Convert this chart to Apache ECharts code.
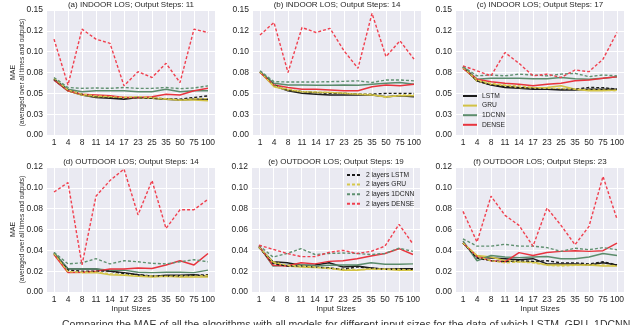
<!DOCTYPE html>
<html><head><meta charset="utf-8">
<script src="https://cdn.jsdelivr.net/npm/echarts@6/dist/echarts.min.js"></script>
<style>html,body{margin:0;padding:0;background:#fff}#c{width:640px;height:325px}</style>
</head><body><div id="c"></div>
<script>
const categories = ['1','4','8','11','14','17','23','25','35','50','75','100'];
const panelTitles = ['(a) INDOOR LOS; Output Steps: 11','(b) INDOOR LOS; Output Steps: 14','(c) INDOOR LOS; Output Steps: 17','(d) OUTDOOR LOS; Output Steps: 14','(e) OUTDOOR LOS; Output Steps: 19','(f) OUTDOOR LOS; Output Steps: 23'];
const topTickLabels = ['0.00','0.03','0.05','0.08','0.10','0.12','0.15'];
const bottomTickLabels = ['0.00','0.02','0.04','0.06','0.08','0.10','0.12'];
const modelNames = ['LSTM','GRU','1DCNN','DENSE','2 layers LSTM','2 layers GRU','2 layers 1DCNN','2 layers DENSE'];

// (a)
const a_LSTM   = [0.066,0.053,0.048,0.045,0.044,0.043,0.045,0.044,0.043,0.042,0.043,0.043];
const a_GRU    = [0.067,0.053,0.048,0.046,0.046,0.045,0.045,0.044,0.043,0.042,0.042,0.041];
const a_1DCNN  = [0.067,0.055,0.052,0.053,0.053,0.053,0.052,0.052,0.055,0.052,0.053,0.053];
const a_DENSE  = [0.066,0.053,0.049,0.048,0.047,0.045,0.045,0.046,0.049,0.048,0.053,0.056];
const a_LSTM2  = [0.067,0.054,0.049,0.046,0.045,0.044,0.045,0.044,0.0436,0.043,0.045,0.047];
const a_GRU2   = [0.068,0.054,0.049,0.047,0.046,0.045,0.046,0.045,0.0436,0.042,0.0436,0.0436];
const a_1DCNN2 = [0.069,0.057,0.056,0.0564,0.056,0.057,0.056,0.056,0.057,0.0556,0.0564,0.059];
const a_DENSE2 = [0.115,0.060,0.127,0.115,0.110,0.059,0.076,0.069,0.086,0.063,0.127,0.123];
// (b)
const b_LSTM   = [0.076,0.059,0.053,0.050,0.049,0.048,0.048,0.048,0.048,0.046,0.047,0.046];
const b_GRU    = [0.0756,0.058,0.054,0.052,0.051,0.051,0.050,0.049,0.048,0.046,0.047,0.047];
const b_1DCNN  = [0.076,0.062,0.060,0.060,0.0596,0.0596,0.060,0.0596,0.061,0.062,0.063,0.061];
const b_DENSE  = [0.075,0.060,0.057,0.055,0.055,0.054,0.053,0.053,0.058,0.060,0.059,0.061];
const b_LSTM2  = [0.076,0.060,0.054,0.052,0.051,0.050,0.050,0.049,0.049,0.050,0.050,0.050];
const b_GRU2   = [0.0756,0.059,0.055,0.052,0.0516,0.051,0.050,0.049,0.0488,0.045,0.048,0.048];
const b_1DCNN2 = [0.077,0.064,0.0636,0.0636,0.0636,0.064,0.0644,0.065,0.063,0.066,0.066,0.065];
const b_DENSE2 = [0.120,0.135,0.075,0.129,0.123,0.128,0.101,0.080,0.146,0.094,0.113,0.091];
// (c)
const c_LSTM   = [0.081,0.065,0.060,0.057,0.056,0.055,0.0548,0.054,0.054,0.0548,0.0548,0.0548];
const c_GRU    = [0.081,0.065,0.061,0.059,0.057,0.0568,0.057,0.059,0.055,0.053,0.053,0.054];
const c_1DCNN  = [0.082,0.067,0.068,0.068,0.068,0.0676,0.0676,0.069,0.0676,0.067,0.068,0.070];
const c_DENSE  = [0.080,0.067,0.064,0.062,0.061,0.059,0.061,0.062,0.065,0.066,0.068,0.070];
const c_LSTM2  = [0.082,0.065,0.060,0.058,0.057,0.056,0.055,0.055,0.055,0.057,0.0568,0.055];
const c_GRU2   = [0.081,0.066,0.062,0.060,0.059,0.057,0.056,0.056,0.055,0.054,0.054,0.053];
const c_1DCNN2 = [0.082,0.071,0.072,0.071,0.073,0.072,0.071,0.073,0.074,0.070,0.072,0.071];
const c_DENSE2 = [0.083,0.077,0.071,0.099,0.086,0.071,0.073,0.069,0.078,0.076,0.091,0.123];
// (d)
const d_LSTM   = [0.037,0.0224,0.022,0.022,0.020,0.0186,0.0166,0.015,0.016,0.016,0.0166,0.015];
const d_GRU    = [0.037,0.019,0.0186,0.0186,0.0166,0.016,0.015,0.0144,0.015,0.0144,0.0144,0.0144];
const d_1DCNN  = [0.038,0.022,0.022,0.022,0.021,0.021,0.019,0.0186,0.019,0.019,0.0186,0.021];
const d_DENSE  = [0.036,0.0186,0.019,0.020,0.022,0.022,0.023,0.0225,0.026,0.030,0.026,0.037];
const d_LSTM2  = [0.037,0.021,0.020,0.020,0.020,0.0176,0.0166,0.0154,0.0154,0.0154,0.016,0.0166];
const d_GRU2   = [0.037,0.0195,0.019,0.019,0.0176,0.0166,0.0154,0.0154,0.015,0.0154,0.015,0.016];
const d_1DCNN2 = [0.038,0.027,0.028,0.032,0.027,0.030,0.029,0.0275,0.027,0.029,0.031,0.029];
const d_DENSE2 = [0.096,0.105,0.026,0.092,0.107,0.118,0.074,0.107,0.061,0.079,0.079,0.089];
// (e)
const e_LSTM   = [0.043,0.029,0.028,0.0256,0.026,0.028,0.024,0.025,0.023,0.0218,0.0224,0.0224];
const e_GRU    = [0.043,0.028,0.025,0.024,0.0234,0.023,0.0208,0.0208,0.0224,0.0218,0.0208,0.0208];
const e_1DCNN  = [0.044,0.025,0.0256,0.026,0.025,0.0256,0.026,0.026,0.028,0.0266,0.0266,0.027];
const e_DENSE  = [0.044,0.0256,0.025,0.028,0.027,0.0294,0.030,0.032,0.0346,0.037,0.0416,0.036];
const e_LSTM2  = [0.043,0.0272,0.025,0.025,0.024,0.023,0.0218,0.024,0.023,0.0218,0.0218,0.0218];
const e_GRU2   = [0.043,0.029,0.0256,0.025,0.024,0.0224,0.0218,0.0214,0.0218,0.0218,0.0218,0.0208];
const e_1DCNN2 = [0.0448,0.0336,0.037,0.0416,0.036,0.037,0.0374,0.037,0.036,0.037,0.042,0.039];
const e_DENSE2 = [0.045,0.041,0.037,0.034,0.034,0.038,0.040,0.037,0.039,0.044,0.065,0.046];
// (f)
const f_LSTM   = [0.047,0.0336,0.0326,0.032,0.031,0.032,0.027,0.027,0.027,0.026,0.028,0.026];
const f_GRU    = [0.047,0.035,0.0336,0.030,0.029,0.0288,0.026,0.026,0.026,0.026,0.025,0.025];
const f_1DCNN  = [0.049,0.030,0.035,0.0336,0.033,0.0336,0.034,0.032,0.032,0.0336,0.037,0.035];
const f_DENSE  = [0.047,0.034,0.030,0.029,0.0378,0.035,0.038,0.039,0.0397,0.039,0.0397,0.047];
const f_LSTM2  = [0.047,0.0326,0.030,0.029,0.030,0.0294,0.030,0.028,0.028,0.027,0.029,0.026];
const f_GRU2   = [0.047,0.0345,0.030,0.028,0.0288,0.028,0.0256,0.025,0.0256,0.026,0.026,0.025];
const f_1DCNN2 = [0.051,0.044,0.044,0.0458,0.044,0.044,0.0426,0.039,0.042,0.0406,0.0426,0.0406];
const f_DENSE2 = [0.0774,0.048,0.092,0.0736,0.064,0.044,0.0806,0.064,0.0454,0.063,0.111,0.070];

const panels = [
  [a_LSTM,a_GRU,a_1DCNN,a_DENSE,a_LSTM2,a_GRU2,a_1DCNN2,a_DENSE2],
  [b_LSTM,b_GRU,b_1DCNN,b_DENSE,b_LSTM2,b_GRU2,b_1DCNN2,b_DENSE2],
  [c_LSTM,c_GRU,c_1DCNN,c_DENSE,c_LSTM2,c_GRU2,c_1DCNN2,c_DENSE2],
  [d_LSTM,d_GRU,d_1DCNN,d_DENSE,d_LSTM2,d_GRU2,d_1DCNN2,d_DENSE2],
  [e_LSTM,e_GRU,e_1DCNN,e_DENSE,e_LSTM2,e_GRU2,e_1DCNN2,e_DENSE2],
  [f_LSTM,f_GRU,f_1DCNN,f_DENSE,f_LSTM2,f_GRU2,f_1DCNN2,f_DENSE2]
];

const styles = [
  {color:'#1c1c1c', type:'solid', width:1.5},
  {color:'#d2c244', type:'solid', width:1.5},
  {color:'#5b8c6c', type:'solid', width:1.5},
  {color:'#e8343e', type:'solid', width:1.5},
  {color:'#1c1c1c', type:[3,2], width:1.4},
  {color:'#d6c84c', type:[3,2], width:1.4},
  {color:'#5f9070', type:[3,2], width:1.4},
  {color:'#f0404f', type:[3,2], width:1.4}
];

const FONT = 'Liberation Sans';
const TXT = '#262626';
const gridPos = [
  {left:47, top:10}, {left:253, top:10}, {left:456, top:10},
  {left:47, top:167}, {left:252, top:167}, {left:456, top:167}
];
const GW = 168, GH = 125;

const grid = gridPos.map(g => ({left:g.left, top:g.top, width:GW, height:GH, show:true, backgroundColor:'#EAEAF2', borderWidth:0}));

const xAxis = gridPos.map((g,i) => ({
  type:'category', gridIndex:i, data:categories, boundaryGap:true,
  axisLine:{show:false}, axisTick:{show:false, alignWithLabel:true},
  axisLabel:{interval:0, fontSize:8.5, fontFamily:FONT, color:TXT, margin:3},
  splitLine:{show:true, alignWithLabel:true, interval:0, lineStyle:{color:'#ffffff', width:1}},
  name: i>=3 ? 'Input Sizes' : '', nameLocation:'middle', nameGap:12,
  nameTextStyle:{fontSize:8, fontFamily:FONT, color:TXT}
}));

const yAxis = gridPos.map((g,i) => {
  const top = i < 3;
  const step = top ? 0.025 : 0.02;
  const labels = top ? topTickLabels : bottomTickLabels;
  return {
    type:'value', gridIndex:i, min:0, max: top ? 0.15 : 0.12, interval: step,
    axisLine:{show:false}, axisTick:{show:false},
    axisLabel:{fontSize:8.5, fontFamily:FONT, color:TXT, margin:4,
      formatter: v => labels[Math.round(v/step)]},
    splitLine:{show:true, lineStyle:{color:'#ffffff', width:1}}
  };
});

const series = [];
panels.forEach((p, pi) => {
  p.forEach((data, mi) => {
    series.push({
      type:'line', name:modelNames[mi], xAxisIndex:pi, yAxisIndex:pi, data:data,
      symbol:'none', silent:true, animation:false, z: 2 + mi,
      lineStyle:{color:styles[mi].color, type:styles[mi].type, width:styles[mi].width},
      itemStyle:{color:styles[mi].color}
    });
  });
});

const graphics = panelTitles.map((t,i) => ({
  type:'text', x: gridPos[i].left + GW/2, y: gridPos[i].top - 5,
  style:{text:t, fontSize:8, fontFamily:FONT, fill:TXT, align:'center', verticalAlign:'middle'}
}));
[0,3].forEach(i => {
  const cy = gridPos[i].top + GH/2;
  graphics.push({type:'text', x:13, y:cy, rotation:Math.PI/2,
    style:{text:'MAE', fontSize:7, fontFamily:FONT, fill:TXT, align:'center', verticalAlign:'middle'}});
  graphics.push({type:'text', x:22, y:cy, rotation:Math.PI/2,
    style:{text:'(averaged over all times and outputs)', fontSize:6.5, fontFamily:FONT, fill:TXT, align:'center', verticalAlign:'middle'}});
});
graphics.push({
  type:'text', x:62, y:320,
  style:{text:'Comparing the MAE of all the algorithms with all models for different input sizes for the data of which LSTM, GRU, 1DCNN', fontSize:10.5, fontFamily:FONT, fill:'#333', align:'left', verticalAlign:'top'}
});

const legendCommon = {orient:'vertical', padding:0, itemWidth:14, itemHeight:8, itemGap:1.6,
  itemStyle:{opacity:0},
  textStyle:{fontSize:6.7, fontFamily:FONT, color:TXT, lineHeight:8}, selectedMode:false, backgroundColor:'transparent'};

const option = {
  animation:false,
  grid, xAxis, yAxis, series,
  legend:[
    Object.assign({}, legendCommon, {data:modelNames.slice(0,4), left:462, top:92}),
    Object.assign({}, legendCommon, {data:modelNames.slice(4), left:346, top:171})
  ],
  graphic: graphics
};

const chart = echarts.init(document.getElementById('c'), null, {renderer:'canvas'});
chart.setOption(option);
</script></body></html>
